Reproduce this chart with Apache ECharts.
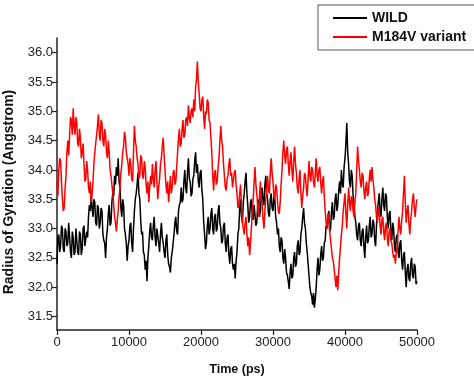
<!DOCTYPE html>
<html>
<head>
<meta charset="utf-8">
<script src="https://cdn.jsdelivr.net/npm/echarts@6/dist/echarts.min.js"></script>
<style>
  html, body { margin: 0; padding: 0; background: #fff; }
  #chart { width: 474px; height: 381px; }
</style>
</head>
<body>
<div id="chart"></div>
<script>
// Sampling step of the trajectories (ps)
const STEP = 125;
const seriesNames = ['WILD', 'M184V variant'];
const xTicks = [0, 10000, 20000, 30000, 40000, 50000];
const yTicks = [31.5, 32.0, 32.5, 33.0, 33.5, 34.0, 34.5, 35.0, 35.5, 36.0];

// WILD radius of gyration (Angstrom), one value every 125 ps from 0 to 50000 ps (40 values per row = 5000 ps)
const wild = [
  32.4, 32.85, 32.9, 32.6, 32.7, 33.05, 33.0, 32.65, 32.6, 33.0, 32.95, 32.7, 32.75, 33.1, 33.1, 32.6, 32.5, 32.95, 32.85, 32.55, 32.6, 33.0, 33.0, 32.6, 32.55, 32.95, 32.9, 32.55, 32.65, 33.0, 33.05, 32.7, 32.7, 32.95, 32.85, 33.2, 33.4, 33.3, 33.6, 33.35,
  33.2, 33.5, 33.45, 33.1, 33.05, 33.4, 33.35, 33.0, 33.1, 33.35, 33.3, 32.9, 32.8, 32.75, 32.5, 32.85, 33.0, 33.25, 33.4, 33.05, 33.1, 33.45, 33.6, 33.55, 33.9, 33.75, 34.05, 33.9, 34.2, 33.8, 33.7, 33.35, 33.2, 33.5, 33.4, 33.0, 32.9, 32.75, 32.45, 32.7,
  32.8, 33.05, 33.1, 32.75, 32.6, 33.0, 33.3, 33.5, 33.6, 33.75, 33.95, 33.6, 33.5, 33.15, 32.9, 32.95, 32.6, 32.55, 32.3, 32.45, 32.1, 32.5, 32.7, 32.95, 33.1, 32.85, 32.8, 33.05, 33.2, 32.85, 32.7, 33.0, 33.0, 32.75, 32.6, 32.9, 33.1, 32.85, 32.75, 32.6,
  32.5, 32.8, 32.9, 32.55, 32.4, 32.35, 32.25, 32.5, 32.6, 32.75, 32.9, 33.1, 33.2, 32.95, 32.9, 33.3, 33.4, 33.45, 33.7, 33.45, 33.5, 33.8, 34.0, 33.7, 33.6, 33.95, 34.2, 33.85, 33.8, 33.55, 33.6, 33.85, 33.9, 34.15, 34.3, 33.95, 34.1, 33.8, 33.7, 33.95,
  34.0, 33.65, 33.5, 33.1, 32.9, 32.65, 32.75, 33.05, 33.2, 32.9, 33.0, 33.25, 33.35, 33.0, 32.9, 33.2, 33.25, 32.95, 33.0, 33.3, 33.4, 33.1, 33.0, 32.75, 32.8, 33.05, 33.1, 32.75, 32.6, 32.85, 32.9, 32.55, 32.4, 32.65, 32.7, 32.4, 32.3, 32.4, 32.15, 32.45,
  32.6, 32.9, 33.0, 33.35, 33.5, 33.2, 33.1, 33.45, 33.6, 33.8, 33.95, 33.6, 33.4, 33.1, 33.2, 33.45, 33.5, 33.2, 33.15, 33.4, 33.4, 33.05, 33.1, 33.4, 33.5, 33.2, 33.3, 33.6, 33.7, 33.45, 33.4, 33.75, 33.9, 33.6, 33.5, 33.25, 33.2, 33.5, 33.6, 33.35,
  33.3, 33.55, 33.5, 33.2, 33.1, 32.9, 33.0, 32.7, 32.6, 32.85, 32.8, 32.5, 32.4, 32.65, 32.5, 32.25, 32.2, 32.1, 31.97, 32.25, 32.4, 32.15, 32.2, 32.5, 32.6, 32.35, 32.4, 32.7, 32.8, 32.55, 32.6, 32.9, 33.0, 33.2, 33.35, 33.1, 33.0, 32.75, 32.6, 32.4,
  32.2, 32.0, 31.9, 31.85, 31.7, 31.9, 31.65, 31.8, 32.0, 32.3, 32.5, 32.2, 32.3, 32.55, 32.7, 32.45, 32.5, 32.75, 32.8, 33.05, 33.0, 33.2, 33.3, 32.95, 33.0, 33.3, 33.45, 33.15, 33.2, 33.5, 33.6, 33.3, 33.4, 33.65, 33.8, 33.6, 34.0, 33.75, 33.7, 34.05,
  34.2, 34.45, 34.8, 34.3, 34.1, 33.8, 33.7, 34.0, 33.9, 33.55, 33.4, 33.2, 33.1, 32.9, 32.8, 33.05, 33.1, 32.8, 32.7, 32.95, 33.0, 32.7, 32.5, 32.85, 33.05, 32.75, 32.8, 33.05, 33.2, 32.85, 32.9, 33.15, 33.1, 32.8, 32.7, 33.05, 33.3, 33.45, 33.6, 33.3,
  33.2, 33.5, 33.7, 33.4, 33.3, 33.6, 33.55, 33.2, 33.0, 33.25, 33.3, 32.95, 32.8, 33.1, 33.0, 32.7, 32.6, 32.85, 32.9, 32.6, 32.5, 32.75, 32.8, 32.45, 32.3, 32.55, 32.6, 32.25, 32.0, 32.3, 32.4, 32.15, 32.1, 32.4, 32.5, 32.2, 32.15, 32.4, 32.35, 32.05,
  32.1
];

// M184V variant radius of gyration (Angstrom), one value every 125 ps
const m184v = [
  33.8, 33.55, 34.0, 34.2, 34.15, 33.8, 33.5, 33.3, 33.35, 33.7, 33.9, 34.3, 34.5, 34.25, 34.6, 34.9, 34.85, 34.6, 35.05, 34.75, 34.6, 34.9, 34.8, 34.45, 34.4, 34.7, 34.55, 34.2, 34.3, 34.45, 34.1, 33.8, 33.85, 34.15, 34.0, 33.7, 33.6, 33.8, 33.45, 33.6,
  33.8, 34.1, 34.3, 34.45, 34.6, 34.75, 34.95, 34.6, 34.5, 34.85, 34.8, 34.5, 34.4, 34.7, 34.6, 34.3, 34.2, 34.5, 34.3, 34.0, 33.9, 33.75, 33.6, 33.4, 33.2, 33.1, 32.95, 33.15, 33.3, 33.55, 33.7, 33.95, 34.1, 34.3, 34.4, 34.65, 34.55, 34.3, 34.2, 34.1,
  33.9, 34.2, 34.1, 33.85, 33.8, 34.3, 34.75, 34.5, 34.4, 34.2, 34.1, 33.85, 33.9, 34.25, 34.2, 33.9, 33.85, 34.15, 34.05, 33.75, 33.6, 33.8, 33.45, 33.7, 33.9, 33.75, 34.1, 33.85, 33.7, 34.0, 34.15, 33.8, 33.5, 33.7, 33.85, 34.1, 34.2, 34.4, 34.55, 34.25,
  34.0, 33.75, 33.6, 33.8, 33.45, 33.65, 33.9, 33.6, 33.7, 33.95, 34.0, 33.75, 33.8, 34.05, 34.3, 34.55, 34.7, 34.4, 34.45, 34.7, 34.85, 34.55, 34.6, 34.85, 34.9, 34.75, 35.1, 34.9, 34.8, 35.0, 35.05, 34.9, 35.2, 35.0, 35.4, 35.55, 35.85, 35.5, 35.3, 35.05,
  35.0, 35.2, 35.25, 34.9, 34.7, 35.0, 34.95, 35.2, 35.15, 34.85, 34.8, 34.55, 34.3, 33.9, 33.65, 33.95, 34.0, 33.75, 33.8, 34.05, 34.2, 34.5, 34.75, 34.5, 34.4, 34.1, 33.9, 33.7, 33.65, 33.85, 33.9, 34.1, 34.2, 33.9, 33.95, 33.7, 33.7, 33.95, 34.0, 33.75,
  33.6, 33.35, 33.4, 33.6, 33.75, 33.4, 33.1, 33.0, 32.9, 33.1, 33.2, 32.9, 32.7, 32.85, 32.55, 32.75, 33.0, 33.3, 33.5, 33.8, 34.05, 33.75, 33.6, 33.35, 33.2, 33.55, 33.8, 33.5, 33.4, 33.15, 33.0, 33.3, 33.5, 33.7, 33.9, 33.65, 33.6, 33.95, 34.2, 33.95,
  33.8, 33.55, 33.5, 33.75, 33.7, 33.45, 33.3, 33.25, 33.45, 33.75, 34.0, 34.3, 34.5, 34.25, 34.1, 34.35, 34.4, 34.1, 33.9, 34.15, 34.3, 34.0, 33.8, 34.15, 34.4, 34.1, 33.95, 33.7, 33.6, 33.85, 34.0, 33.6, 33.35, 33.55, 33.7, 33.95, 33.9, 33.7, 33.55, 33.85,
  34.15, 33.9, 33.8, 34.05, 34.0, 33.8, 33.7, 33.95, 34.2, 33.9, 33.8, 34.0, 34.05, 33.8, 33.6, 33.8, 33.9, 33.55, 33.3, 33.1, 33.0, 33.25, 33.2, 32.95, 32.8, 32.65, 32.5, 32.45, 32.3, 32.15, 32.0, 32.2, 31.95, 32.25, 32.5, 32.7, 32.9, 33.05, 33.3, 33.45,
  33.6, 33.25, 33.0, 33.4, 33.7, 33.45, 33.3, 33.55, 33.5, 33.3, 33.2, 33.45, 33.6, 34.0, 34.4, 34.15, 34.0, 33.8, 33.7, 33.95, 33.9, 33.65, 33.5, 33.7, 33.8, 33.55, 33.6, 33.85, 34.0, 33.8, 34.05, 33.85, 33.7, 33.5, 33.4, 33.2, 33.1, 33.35, 33.3, 33.05,
  32.9, 33.15, 33.2, 32.95, 32.8, 33.05, 33.1, 32.85, 32.7, 32.95, 33.0, 32.8, 32.75, 32.6, 32.5, 32.55, 32.4, 32.6, 32.7, 32.95, 33.2, 33.0, 32.9, 33.15, 33.3, 33.6, 33.9, 33.45, 33.1, 33.3, 33.4, 33.1, 32.9, 33.15, 33.3, 33.5, 33.6, 33.35, 33.2, 33.4,
  33.5
];

const toPairs = arr => arr.map((v, i) => [i * STEP, v]);
const FONT = 'Arial, "Liberation Sans", sans-serif';

const chart = echarts.init(document.getElementById('chart'), null, { renderer: 'canvas' });
chart.setOption({
  animation: false,
  backgroundColor: '#fff',
  grid: { left: 57, right: 57, top: 38, bottom: 51, containLabel: false, outerBoundsMode: 'none' },
  legend: {
    data: seriesNames,
    orient: 'vertical',
    left: 318,
    top: 5,
    padding: [6, 9, 6, 15],
    itemGap: 5,
    itemWidth: 34,
    itemHeight: 2,
    icon: 'rect',
    borderColor: '#555',
    borderWidth: 1,
    textStyle: { fontFamily: FONT, fontSize: 14, fontWeight: 'bold', color: '#111' }
  },
  xAxis: {
    type: 'value',
    min: 0,
    max: 50000,
    interval: 10000,
    name: 'Time (ps)',
    nameLocation: 'middle',
    nameGap: 33,
    nameTextStyle: { fontFamily: FONT, fontSize: 12.5, fontWeight: 'bold', color: '#111' },
    axisLine: { show: true, onZero: false, lineStyle: { color: '#222', width: 1.5 } },
    axisTick: { show: true, inside: false, length: 5, lineStyle: { color: '#222', width: 1.2 } },
    axisLabel: { fontFamily: FONT, fontSize: 13, color: '#222', margin: 6, formatter: v => String(v) },
    splitLine: { show: false }
  },
  yAxis: {
    type: 'value',
    min: 31.27,
    max: 36.25,
    name: 'Radius of Gyration (Angstrom)',
    nameLocation: 'middle',
    nameGap: 41,
    nameTextStyle: { fontFamily: FONT, fontSize: 14, fontWeight: 'bold', color: '#111', padding: [0, 16, 0, 0] },
    axisLine: { show: true, onZero: false, lineStyle: { color: '#222', width: 1.5 } },
    axisTick: { show: true, inside: false, length: 5, customValues: yTicks, lineStyle: { color: '#222', width: 1.2 } },
    axisLabel: { fontFamily: FONT, fontSize: 13, color: '#222', margin: 4, customValues: yTicks,
      formatter: v => v.toFixed(1) },
    splitLine: { show: false }
  },
  series: [
    {
      name: seriesNames[0],
      type: 'line',
      data: toPairs(wild),
      showSymbol: false,
      symbol: 'none',
      color: '#000',
      lineStyle: { color: '#000', width: 1.5 },
      z: 2
    },
    {
      name: seriesNames[1],
      type: 'line',
      data: toPairs(m184v),
      showSymbol: false,
      symbol: 'none',
      color: '#ff0000',
      lineStyle: { color: '#ff0000', width: 1.5 },
      z: 3
    }
  ]
});
</script>
</body>
</html>
